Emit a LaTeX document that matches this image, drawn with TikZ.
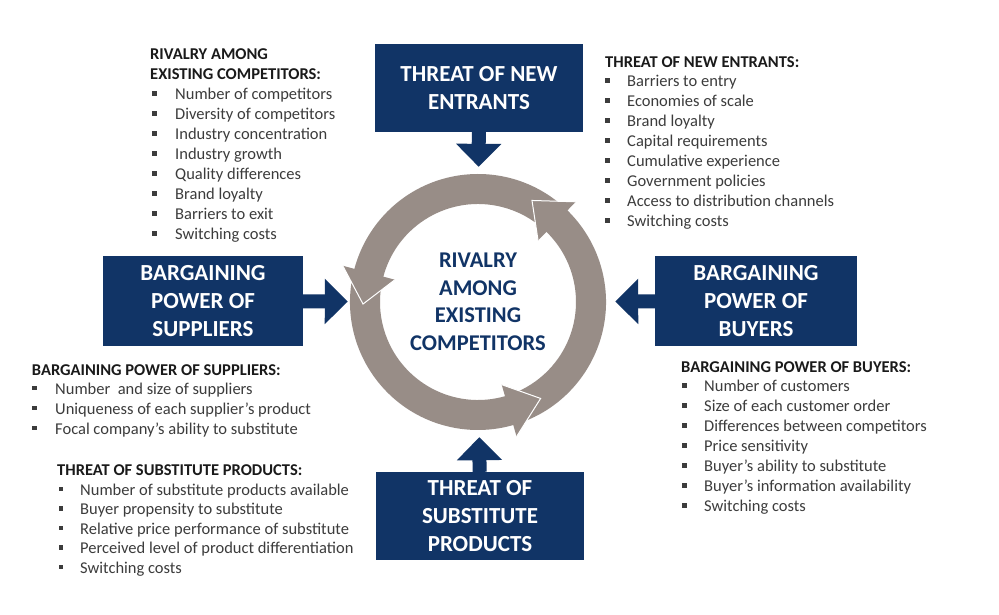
\documentclass[tikz,border=0pt]{standalone}
\usepackage{fontspec}
\setmainfont{Carlito}
\usetikzlibrary{arrows.meta}
\definecolor{navy}{RGB}{17,52,102}
\definecolor{ringc}{RGB}{152,141,135}
\definecolor{headc}{RGB}{26,26,26}
\definecolor{itemc}{RGB}{60,60,60}
\newcommand\mylist[6]{%
  \foreach \t [count=\i from 0] in {#6} {
    \node[itemtext, name=#1\i] at (#3, {#4-#5*\i}) {\t};
    \fill[itemc] (#2, {#4-#5*\i+4}) rectangle ++(4.5,4.5);
  }}
\newcommand\ringhead[2]{%
  \fill[ringc] (#1:86pt) -- (#1:140pt) -- (#2:115pt) -- cycle;
  \draw[white, line width=1pt, line join=miter] (#1:140pt) -- (#2:115pt) -- (#1:86pt);}
\begin{document}
\begin{tikzpicture}[x=1pt,y=1pt,
  box/.style={fill=navy, text=white, font=\bfseries\fontsize{23}{28}\selectfont,
    align=center, inner sep=0pt},
  blockarrow/.style={draw=navy, line width=14pt, -{Triangle[width=44pt,length=23pt]}},
  headtext/.style={anchor=base west, inner sep=0pt, text=headc,
    font=\bfseries\fontsize{16.5}{20}\selectfont},
  itemtext/.style={anchor=base west, inner sep=0pt, text=itemc,
    font=\fontsize{16.5}{20}\selectfont},
  ringbody/.style={fill=ringc}]
\useasboundingbox (0,0) rectangle (999,614);
\fill[white] (0,0) rectangle (999,614);

% ring
\begin{scope}[shift={(478,312)}]
  \fill[ringbody] (-71:128pt) arc[start angle=-71, end angle=46, radius=128pt]
     -- (46:98pt) arc[start angle=46, end angle=-71, radius=98pt] -- cycle;
  \fill[ringbody] (48:128pt) arc[start angle=48, end angle=165.5, radius=128pt]
     -- (165.5:98pt) arc[start angle=165.5, end angle=48, radius=98pt] -- cycle;
  \fill[ringbody] (168:128pt) arc[start angle=168, end angle=286.5, radius=128pt]
     -- (286.5:98pt) arc[start angle=286.5, end angle=168, radius=98pt] -- cycle;
  \ringhead{45.7}{62}
  \ringhead{165}{181}
  \ringhead{286}{303}
\end{scope}

\node[circle, minimum size=256pt, inner sep=0pt, align=center, text=navy,
  font=\bfseries\fontsize{22.5}{27.5}\selectfont] (ring) at (478,312)
  {RIVALRY\\AMONG\\EXISTING\\COMPETITORS};

% boxes
\node[box, minimum width=208pt, minimum height=88pt] (tbox) at (479,526) {THREAT OF NEW\\ENTRANTS};
\node[box, minimum width=200pt, minimum height=90pt] (lbox) at (203,313) {BARGAINING\\POWER OF\\SUPPLIERS};
\node[box, minimum width=202pt, minimum height=90pt] (rbox) at (756,313) {BARGAINING\\POWER OF\\BUYERS};
\node[box, minimum width=208pt, minimum height=88pt] (bbox) at (480,98) {THREAT OF\\SUBSTITUTE\\PRODUCTS};

% block arrows
\draw[blockarrow, shorten >=7pt] (tbox) -- (ring);
\draw[blockarrow, shorten >=2pt] (lbox) -- (ring);
\draw[blockarrow, shorten >=9pt] (rbox) -- (ring);
\draw[blockarrow, shorten >=7pt] (bbox) -- (ring);

% rivalry list
\node[headtext] (rvh1) at (150,554.7) {RIVALRY AMONG};
\node[headtext] (rvh2) at (150,534.7) {EXISTING COMPETITORS:};
\mylist{rv}{152}{175}{514}{20}{Number of competitors,Diversity of competitors,Industry concentration,Industry growth,Quality differences,Brand loyalty,Barriers to exit,Switching costs}

% new entrants list
\node[headtext] (neh) at (605,546.3) {THREAT OF NEW ENTRANTS:};
\mylist{ne}{605}{627}{527.3}{20}{Barriers to entry,Economies of scale,Brand loyalty,Capital requirements,Cumulative experience,Government policies,Access to distribution channels,Switching costs}

% suppliers list
\node[headtext] (suh) at (31.7,239) {BARGAINING POWER OF SUPPLIERS:};
\mylist{su}{32}{55}{219.7}{20}{Number\ \ and size of suppliers,Uniqueness of each supplier’s product,Focal company’s ability to substitute}

% substitutes list
\node[headtext] (sbh) at (57,138.3) {THREAT OF SUBSTITUTE PRODUCTS:};
\mylist{sb}{58.5}{80}{119}{19.6}{Number of substitute products available,Buyer propensity to substitute,Relative price performance of substitute,Perceived level of product differentiation,Switching costs}

% buyers list
\node[headtext] (byh) at (681,241.7) {BARGAINING POWER OF BUYERS:};
\mylist{by}{682}{704}{222.3}{20}{Number of customers,Size of each customer order,Differences between competitors,Price sensitivity,Buyer’s ability to substitute,Buyer’s information availability,Switching costs}
\end{tikzpicture}
\end{document}
